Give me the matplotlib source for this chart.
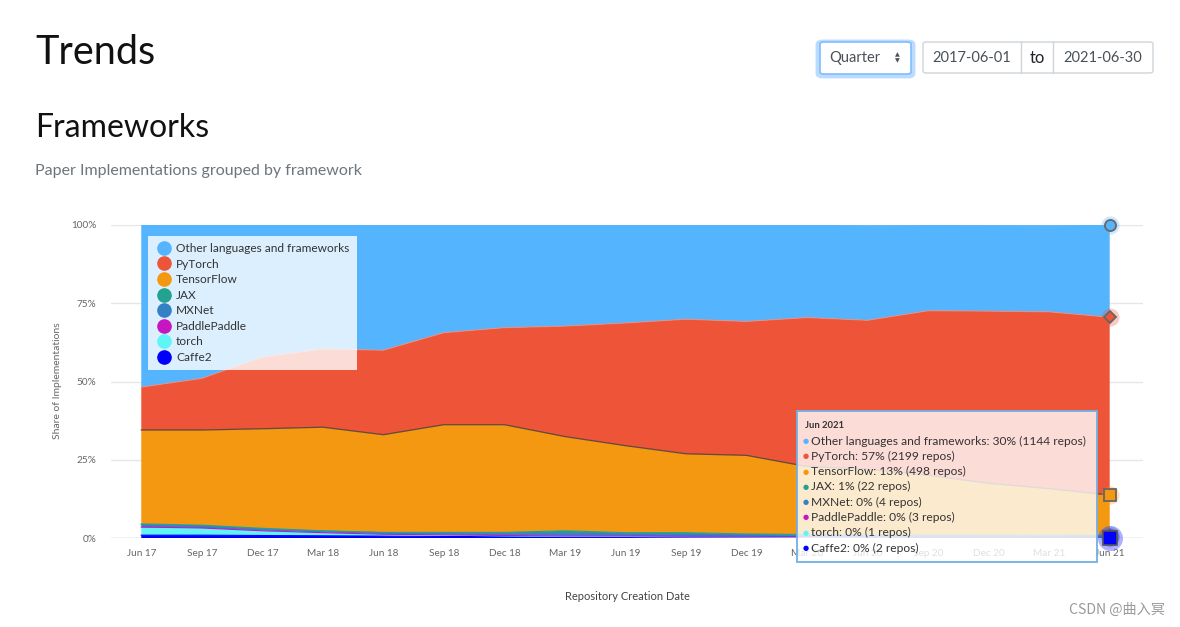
import matplotlib
matplotlib.use('Agg')
import matplotlib.pyplot as plt
from matplotlib.lines import Line2D
from matplotlib.patches import FancyBboxPatch, Rectangle
import numpy as np

plt.rcParams['font.family'] = ['Lato', 'DejaVu Sans']

# ---------------- data ----------------
quarters = ['Jun 17', 'Sep 17', 'Dec 17', 'Mar 18', 'Jun 18', 'Sep 18', 'Dec 18',
            'Mar 19', 'Jun 19', 'Sep 19', 'Dec 19', 'Mar 20', 'Jun 20', 'Sep 20',
            'Dec 20', 'Mar 21', 'Jun 21']
caffe2 = [0.9, 0.9, 0.8, 0.7, 0.6, 0.5, 0.4, 0.3, 0.3, 0.2, 0.2, 0.15, 0.1, 0.1, 0.1, 0.08, 0.05]
torch = [2.3, 2.1, 1.4, 0.9, 0.5, 0.4, 0.3, 0.25, 0.2, 0.15, 0.1, 0.08, 0.06, 0.05, 0.04, 0.03, 0.03]
paddle = [0.3, 0.2, 0.1, 0.1, 0.1, 0.1, 0.1, 0.1, 0.15, 0.2, 0.25, 0.2, 0.15, 0.1, 0.1, 0.1, 0.08]
mxnet = [0.8, 0.7, 0.6, 0.5, 0.5, 0.6, 0.7, 0.9, 0.7, 0.6, 0.5, 0.4, 0.3, 0.25, 0.2, 0.15, 0.1]
jax = [0.2, 0.2, 0.2, 0.1, 0.1, 0.2, 0.3, 0.75, 0.35, 0.55, 0.25, 0.3, 0.35, 0.4, 0.45, 0.5, 0.57]
tensorflow = [30.0, 30.4, 31.8, 33.1, 31.2, 34.4, 34.4, 30.1, 27.8, 25.2, 25.1, 21.7, 21.0, 19.1, 16.6, 14.9, 12.9]
pytorch = [13.7, 16.5, 22.9, 25.0, 27.0, 29.4, 31.0, 35.3, 39.2, 43.0, 42.8, 47.6, 47.6, 52.6, 55.0, 56.5, 56.8]
other = [51.8, 49.0, 42.2, 39.6, 40.0, 34.4, 32.8, 32.3, 31.3, 30.1, 30.8, 29.6, 30.4, 27.4, 27.5, 27.7, 29.5]

# legend / tooltip order (top of stack first)
names = ['Other languages and frameworks', 'PyTorch', 'TensorFlow', 'JAX', 'MXNet',
         'PaddlePaddle', 'torch', 'Caffe2']
colors = ['#55b4fe', '#ee5538', '#f59811', '#23a290', '#3480c4', '#c616c1', '#5ff5f6', '#0000ff']
markers = ['o', 'D', 's', '^', 'v', 'o', 'D', 's']
tip_title = 'Jun 2021'
tip_pct = [30, 57, 13, 1, 0, 0, 0, 0]
tip_repos = [1144, 2199, 498, 22, 4, 3, 1, 2]
yticks = [0, 25, 50, 75, 100]

W, H = 1180, 627
fig = plt.figure(figsize=(W / 100, H / 100), dpi=100)


def fx(x):
    return x / W


def fy(y):
    return 1 - y / H


def ftext(x, y, s, **kw):
    return fig.text(fx(x), fy(y), s, **kw)


# ---------------- header ----------------
ftext(35, 64, 'Trends', fontsize=28.5, color='#111111', va='baseline')
ftext(35, 137, 'Frameworks', fontsize=23, color='#111111', va='baseline')
ftext(35, 175, 'Paper Implementations grouped by framework', fontsize=11.5,
      color='#6c757d', va='baseline')

# controls
glow = FancyBboxPatch((fx(818), fy(76)), fx(95), 34 / H,
                      boxstyle='round,pad=0,rounding_size=0.004',
                      transform=fig.transFigure, facecolor='none',
                      edgecolor='#bcdcff', lw=3.5)
fig.add_artist(glow)
sel = FancyBboxPatch((fx(820), fy(74)), fx(91), 32 / H,
                     boxstyle='round,pad=0,rounding_size=0.003',
                     transform=fig.transFigure, facecolor='white',
                     edgecolor='#80bdff', lw=1.2)
fig.add_artist(sel)
ftext(829, 58, 'Quarter', fontsize=10.5, color='#495057', va='center')
ftext(897, 54.5, '\u25b2', fontsize=4.5, color='#495057', va='center', ha='center',
      family='DejaVu Sans')
ftext(897, 61, '\u25bc', fontsize=4.5, color='#495057', va='center', ha='center',
      family='DejaVu Sans')

datebox = FancyBboxPatch((fx(923), fy(73)), fx(230), 31 / H,
                         boxstyle='round,pad=0,rounding_size=0.003',
                         transform=fig.transFigure,
                         facecolor='white', edgecolor='#ced4da', lw=1)
fig.add_artist(datebox)
for xd in (1021, 1053):
    fig.add_artist(Line2D([fx(xd), fx(xd)], [fy(42), fy(73)], transform=fig.transFigure,
                          color='#ced4da', lw=1))
ftext(972, 58, '2017-06-01', fontsize=10.5, color='#495057', va='center', ha='center')
ftext(1037, 58, 'to', fontsize=12, color='#212529', va='center', ha='center')
ftext(1103, 58, '2021-06-30', fontsize=10.5, color='#495057', va='center', ha='center')

# ---------------- chart ----------------
ax = fig.add_axes([fx(111), fy(538), fx(1032), 313 / H])
x = np.arange(len(quarters))
stack_series = [caffe2, torch, paddle, mxnet, jax, tensorflow, pytorch, other]
stack_colors = colors[::-1]
ax.stackplot(x, *stack_series, colors=stack_colors, linewidth=0, zorder=2)
cum = np.cumsum(np.array(stack_series), axis=0)
ax.plot(x, cum[5], color='#3a3a3a', lw=0.9, alpha=0.8, zorder=3)
ax.plot(x, cum[6], color='#f08a78', lw=0.8, alpha=0.8, zorder=3)
for i in range(5):
    ax.plot(x, cum[i], color=stack_colors[i], lw=0.8, zorder=3)

ax.set_xlim(-0.5, 16.55)
ax.set_ylim(0, 100)
ax.set_yticks(yticks)
ax.set_yticklabels([f'{v}%' for v in yticks])
ax.set_xticks(x)
ax.set_xticklabels(quarters)
ax.tick_params(axis='both', length=0, labelsize=7.2, colors='#666666')
ax.tick_params(axis='y', pad=10.5)
ax.tick_params(axis='x', pad=8)
for s in ax.spines.values():
    s.set_visible(False)
ax.grid(axis='y', color='#e6e6e6', lw=1, zorder=0)
ax.axhline(0, color='#ccd6eb', lw=1, zorder=1)
ax.set_axisbelow(True)

ftext(57, 381, 'Share of Implementations', fontsize=7.5, color='#666666',
      rotation=90, va='center', ha='center')
ftext(627, 596, 'Repository Creation Date', fontsize=8, color='#444444',
      va='center', ha='center')

# hover markers at last point
last = len(quarters) - 1
tops = [cum[7 - k][last] for k in range(8)]  # in names order
for k in range(6, -1, -1):
    ax.plot([last], [tops[k]], marker='o', markersize=13,
            color=colors[k], alpha=0.3, clip_on=False, zorder=6, markeredgewidth=0)
    ax.plot([last], [tops[k]], marker=markers[k], markersize=8 if markers[k] != 'D' else 6.5,
            markerfacecolor=colors[k], markeredgecolor='#666666', markeredgewidth=1.3,
            clip_on=False, zorder=7)
ax.plot([last], [tops[7]], marker='o', markersize=18, color='#3b3bff', alpha=0.4,
        clip_on=False, zorder=8, markeredgewidth=0)
ax.plot([last], [tops[7]], marker='s', markersize=9.5, markerfacecolor='#0000ff',
        markeredgecolor='#555555', markeredgewidth=1.2, clip_on=False, zorder=9)

# legend
handles = [Line2D([], [], marker='o', linestyle='none', markersize=9.5,
                  markerfacecolor=c, markeredgecolor=c) for c in colors]
leg = ax.legend(handles, names, loc='upper left', bbox_to_anchor=(0.0359, 0.965),
                borderaxespad=0, frameon=True, fontsize=8.6, labelspacing=0.38,
                handletextpad=0.35, handlelength=1.4, borderpad=0.6, fancybox=False)
leg.get_frame().set_facecolor('white')
leg.get_frame().set_alpha(0.8)
leg.get_frame().set_linewidth(0)
for t in leg.get_texts():
    t.set_color('#333333')
leg.set_zorder(10)

# tooltip
tip = Rectangle((fx(797), fy(562)), fx(300), 151 / H, transform=fig.transFigure,
                facecolor='white', alpha=0.8, edgecolor='none', zorder=20)
fig.add_artist(tip)
tip_border = Rectangle((fx(797), fy(562)), fx(300), 151 / H, transform=fig.transFigure,
                       facecolor='none', edgecolor='#6fb0e6', lw=1.3, zorder=21)
fig.add_artist(tip_border)
ftext(805, 426, tip_title, fontsize=6.8, color='#333333', fontweight='bold',
      va='center', zorder=22)
for k in range(8):
    yy = 441 + k * 15.3
    ftext(803, yy, '\u25cf', fontsize=5, color=colors[k], va='center',
          family='DejaVu Sans', zorder=22)
    ftext(811, yy, f'{names[k]}: {tip_pct[k]}% ({tip_repos[k]} repos)', fontsize=8.65,
          color='#333333', va='center', zorder=22)

# watermark
ftext(1165, 610, 'CSDN @曲入冥', fontsize=10.2, color='#9a9a9a', ha='right', va='center',
      family=['Noto Sans CJK SC', 'DejaVu Sans'])

fig.savefig('out.png', dpi=100)
